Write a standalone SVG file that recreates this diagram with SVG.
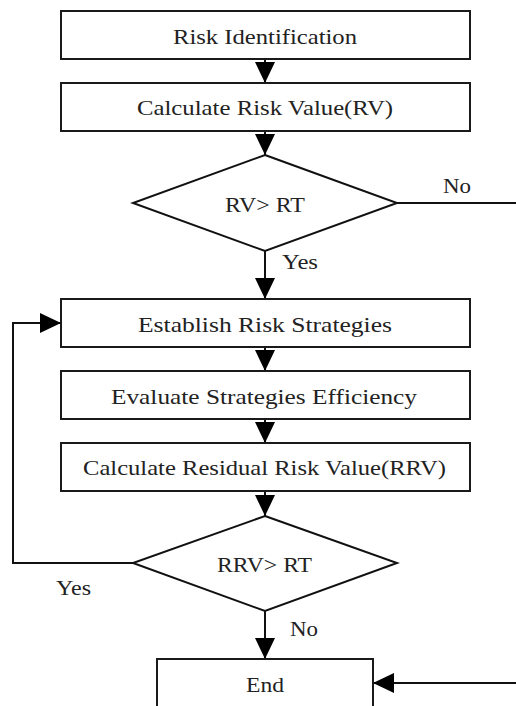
<svg xmlns="http://www.w3.org/2000/svg" width="516" height="706" viewBox="0 0 516 706">
<style>
  .box { fill: #fff; stroke: #1a1a1a; stroke-width: 2; }
  .dia { fill: #fff; stroke: #111; stroke-width: 2; }
  .con { fill: none; stroke: #111; stroke-width: 2; }
  text { font-family: "Liberation Serif", "DejaVu Serif", serif; font-size: 21px; fill: #222; }
  .c { text-anchor: middle; }
</style>
<defs>
  <marker id="arr" viewBox="0 0 21 20" refX="21" refY="10" markerWidth="21" markerHeight="20" markerUnits="userSpaceOnUse" orient="auto">
    <path d="M0,0 L21,10 L0,20 z" fill="#000"/>
  </marker>
</defs>
<rect width="516" height="706" fill="#fff"/>
<g id="connectors">
  <path class="con" d="M265,59 V83" marker-end="url(#arr)"/>
  <path class="con" d="M265,131 V155" marker-end="url(#arr)"/>
  <path class="con" d="M265,251 V299" marker-end="url(#arr)"/>
  <path class="con" d="M397,203 H516"/>
  <path class="con" d="M265,347 V371" marker-end="url(#arr)"/>
  <path class="con" d="M265,419 V443" marker-end="url(#arr)"/>
  <path class="con" d="M265,491 V516" marker-end="url(#arr)"/>
  <path class="con" d="M133,563 H13 V323 H61" marker-end="url(#arr)"/>
  <path class="con" d="M265,611 V659" marker-end="url(#arr)"/>
  <path class="con" d="M516,683 H373" marker-end="url(#arr)"/>
  <text x="443" y="193" textLength="28" lengthAdjust="spacingAndGlyphs">No</text>
  <text x="282" y="269" textLength="36" lengthAdjust="spacingAndGlyphs">Yes</text>
  <text x="56" y="595" textLength="35" lengthAdjust="spacingAndGlyphs">Yes</text>
  <text x="290" y="636" textLength="28" lengthAdjust="spacingAndGlyphs">No</text>
</g>
<g id="n1">
  <rect class="box" x="61" y="11" width="409" height="48"/>
  <text class="c" x="265" y="44" textLength="184" lengthAdjust="spacingAndGlyphs">Risk Identification</text>
</g>
<g id="n2">
  <rect class="box" x="61" y="83" width="409" height="48"/>
  <text class="c" x="265" y="115" textLength="256" lengthAdjust="spacingAndGlyphs">Calculate Risk Value(RV)</text>
</g>
<g id="d1">
  <polygon class="dia" points="265,155 397,203 265,251 133,203"/>
  <text class="c" x="265" y="212" textLength="80" lengthAdjust="spacingAndGlyphs">RV&gt; RT</text>
</g>
<g id="n3">
  <rect class="box" x="61" y="299" width="409" height="48"/>
  <text class="c" x="265" y="332" textLength="254" lengthAdjust="spacingAndGlyphs">Establish Risk Strategies</text>
</g>
<g id="n4">
  <rect class="box" x="61" y="371" width="409" height="48"/>
  <text class="c" x="264" y="404" textLength="306" lengthAdjust="spacingAndGlyphs">Evaluate Strategies Efficiency</text>
</g>
<g id="n5">
  <rect class="box" x="61" y="443" width="409" height="48"/>
  <text class="c" x="264.5" y="475" textLength="363" lengthAdjust="spacingAndGlyphs">Calculate Residual Risk Value(RRV)</text>
</g>
<g id="d2">
  <polygon class="dia" points="265,516 397,563 265,611 133,563"/>
  <text class="c" x="264.5" y="572" textLength="95" lengthAdjust="spacingAndGlyphs">RRV&gt; RT</text>
</g>
<g id="end">
  <rect class="box" x="157" y="659" width="216" height="70"/>
  <text class="c" x="265" y="692" textLength="38" lengthAdjust="spacingAndGlyphs">End</text>
</g>
</svg>
